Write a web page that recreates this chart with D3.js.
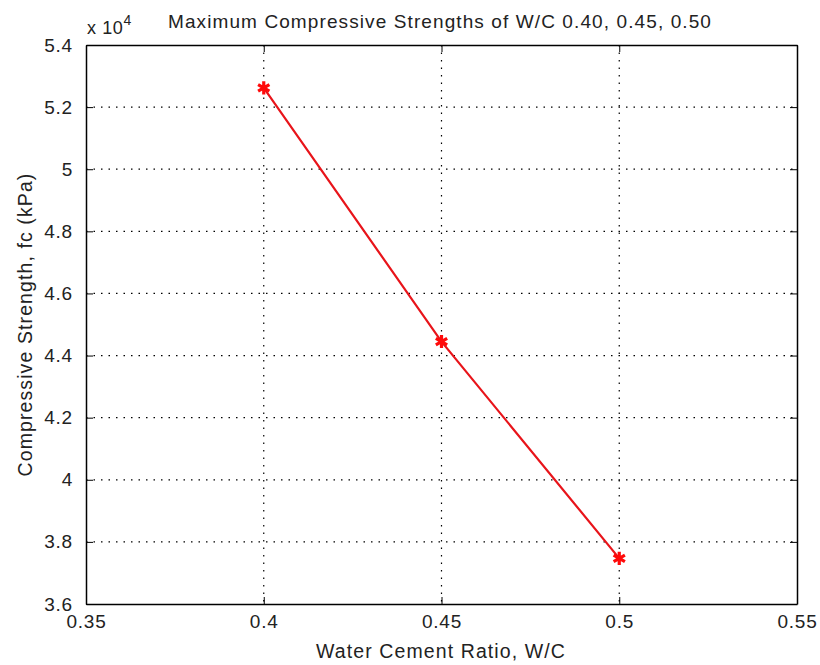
<!DOCTYPE html>
<html>
<head>
<meta charset="utf-8">
<script src="https://cdn.jsdelivr.net/npm/d3@7"></script>
<style>
  html, body { margin: 0; padding: 0; background: #fff; }
  svg { display: block; font-family: "Liberation Sans", Arial, sans-serif; }
</style>
</head>
<body>
<svg id="chart" width="820" height="665"></svg>
<script>
// Water/cement ratios and measured maximum compressive strengths (kPa)
const wcRatios = [0.40, 0.45, 0.50];
const strengths = [52620, 44450, 37470];

const xTicks = [0.35, 0.4, 0.45, 0.5, 0.55];
const xTickLabels = ["0.35", "0.4", "0.45", "0.5", "0.55"];
const yTicks = [36000, 38000, 40000, 42000, 44000, 46000, 48000, 50000, 52000, 54000];
const yTickLabels = ["3.6", "3.8", "4", "4.2", "4.4", "4.6", "4.8", "5", "5.2", "5.4"];

const titleText = "Maximum Compressive Strengths of W/C 0.40, 0.45, 0.50";
const xLabel = "Water Cement Ratio, W/C";
const yLabel = "Compressive Strength, fc (kPa)";

const margin = { left: 86, right: 23, top: 45, bottom: 61 };
const W = 820, H = 665;
const svg = d3.select("#chart");

const x = d3.scaleLinear().domain([0.35, 0.55]).range([margin.left, W - margin.right]);
const y = d3.scaleLinear().domain([36000, 54000]).range([H - margin.bottom, margin.top]);

const x0 = x.range()[0], x1 = x.range()[1];
const y0 = y.range()[0], y1 = y.range()[1];

// dotted grid
const grid = svg.append("g");
grid.selectAll("line.gx").data(xTicks.slice(1, -1)).join("line")
  .attr("x1", d => x(d)).attr("x2", d => x(d))
  .attr("y1", y1).attr("y2", y0)
  .attr("stroke", "#000").attr("stroke-width", 1.2)
  .attr("stroke-dasharray", "1.5,6");
grid.selectAll("line.gy").data(yTicks.slice(1, -1)).join("line")
  .attr("y1", d => y(d)).attr("y2", d => y(d))
  .attr("x1", x0).attr("x2", x1)
  .attr("stroke", "#000").attr("stroke-width", 1.2)
  .attr("stroke-dasharray", "1.5,6");

// axes with inward ticks on all four sides
const tickLen = 7;
const xAxisB = d3.axisBottom(x).tickValues(xTicks).tickSizeInner(-tickLen).tickSizeOuter(0)
  .tickPadding(11).tickFormat((d, i) => xTickLabels[i]);
const xAxisT = d3.axisTop(x).tickValues(xTicks).tickSizeInner(-tickLen).tickSizeOuter(0).tickFormat("");
const yAxisL = d3.axisLeft(y).tickValues(yTicks).tickSizeInner(-tickLen).tickSizeOuter(0)
  .tickPadding(13).tickFormat((d, i) => yTickLabels[i]);
const yAxisR = d3.axisRight(y).tickValues(yTicks).tickSizeInner(-tickLen).tickSizeOuter(0).tickFormat("");

function styleAxis(g) {
  g.select(".domain").attr("stroke", "#000").attr("stroke-width", 1.5);
  g.selectAll(".tick line").attr("stroke", "#000").attr("stroke-width", 1);
  g.selectAll(".tick text").attr("fill", "#222").style("font-size", "19px")
    .style("letter-spacing", "0.8px")
    .style("font-family", "'Liberation Sans', Arial, sans-serif");
}
svg.append("g").attr("transform", `translate(0,${y0})`).call(xAxisB).call(styleAxis);
svg.append("g").attr("transform", `translate(0,${y1})`).call(xAxisT).call(styleAxis);
svg.append("g").attr("transform", `translate(${x0},0)`).call(yAxisL).call(styleAxis);
svg.append("g").attr("transform", `translate(${x1},0)`).call(yAxisR).call(styleAxis);

// data line
const pts = wcRatios.map((w, i) => [w, strengths[i]]);
svg.append("path")
  .datum(pts)
  .attr("fill", "none")
  .attr("stroke", "#e8141a")
  .attr("stroke-width", 2.2)
  .attr("d", d3.line().x(d => x(d[0])).y(d => y(d[1])));

// asterisk markers
const star = d3.symbol().type(d3.symbolAsterisk).size(120);
svg.selectAll("path.mk").data(pts).join("path")
  .attr("transform", d => `translate(${x(d[0])},${y(d[1])})`)
  .attr("d", star)
  .attr("fill", "none")
  .attr("stroke", "#ff0a0a")
  .attr("stroke-width", 3.2);

// exponent multiplier
const mult = svg.append("text").attr("x", 87).attr("y", 34)
  .style("font-size", "18px").style("letter-spacing", "0.6px").attr("fill", "#222");
mult.append("tspan").text("x 10");
mult.append("tspan").attr("dy", -9).style("font-size", "14px").text("4");

// title and axis labels
svg.append("text").attr("x", 440).attr("y", 28).attr("text-anchor", "middle")
  .style("font-size", "19px").style("letter-spacing", "1.1px")
  .attr("fill", "#222").text(titleText);
svg.append("text").attr("x", 441).attr("y", 658).attr("text-anchor", "middle")
  .style("font-size", "19.5px").style("letter-spacing", "1.1px")
  .attr("fill", "#222").text(xLabel);
svg.append("text").attr("transform", `translate(32,${(y0 + y1) / 2}) rotate(-90)`)
  .attr("text-anchor", "middle")
  .style("font-size", "19.5px").style("letter-spacing", "1.1px")
  .attr("fill", "#222").text(yLabel);
</script>
</body>
</html>
